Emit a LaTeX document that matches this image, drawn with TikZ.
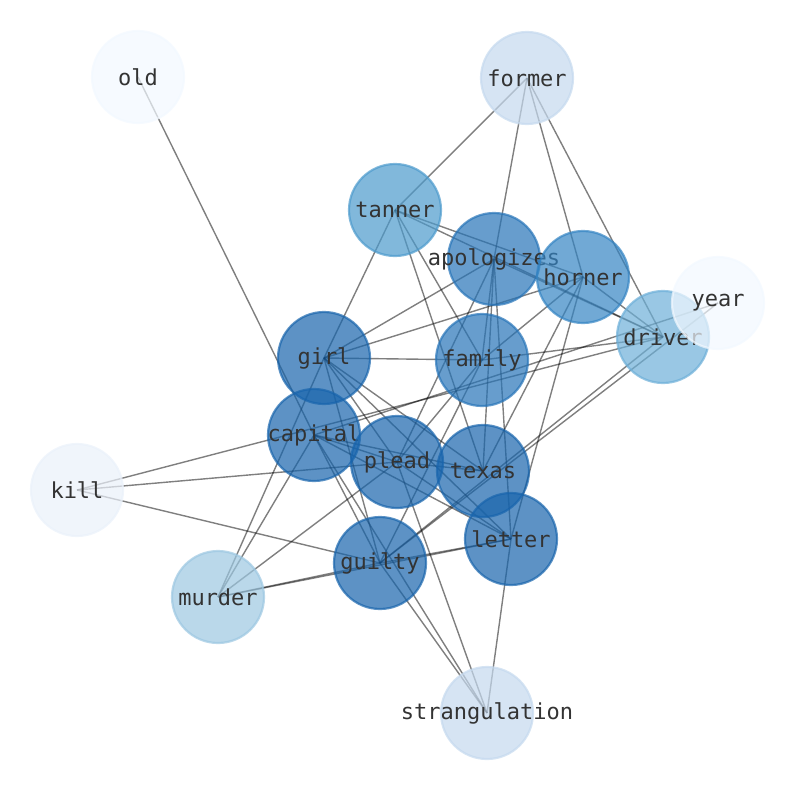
\documentclass[tikz,border=0pt]{standalone}
\usepackage{fontspec}
\setmonofont{DejaVu Sans Mono}
\usepackage{tikz}
\usetikzlibrary{backgrounds}

\definecolor{shadeA}{RGB}{242,248,255}
\definecolor{shadeB}{RGB}{234,241,250}
\definecolor{shadeC}{RGB}{197,217,238}
\definecolor{shadeD}{RGB}{156,199,225}
\definecolor{shadeE}{RGB}{109,175,216}
\definecolor{shadeF}{RGB}{76,154,204}
\definecolor{shadeG}{RGB}{52,132,195}
\definecolor{shadeH}{RGB}{39,116,184}
\definecolor{shadeI}{RGB}{24,100,172}

\newcommand{\wlabel}[1]{\makebox[0pt]{#1}}

\begin{document}
\begin{tikzpicture}[
				x=1pt, y=-1pt,
				word/.style={
					circle,
					minimum size=92pt,
					inner sep=0pt,
					line width=2.2pt,
					fill opacity=0.7,
					draw opacity=0.7,
					text opacity=1,
					text=black!80,
					font=\ttfamily\fontsize{22}{26}\selectfont
				},
				link/.style={draw=black, draw opacity=0.5, line width=1.4pt}
				]
				\useasboundingbox (0,0) rectangle (794,790);
				
				\node[word, fill=shadeA, draw=shadeA] (old) at (138,77) {\wlabel{old}};
				\node[word, fill=shadeC, draw=shadeC] (former) at (527,78) {\wlabel{former}};
				\node[word, fill=shadeF, draw=shadeF] (tanner) at (395,210) {\wlabel{tanner}};
				\node[word, fill=shadeH, draw=shadeH] (apologizes) at (494,259) {\wlabel{apologizes}};
				\node[word, fill=shadeG, draw=shadeG] (horner) at (583,277) {\wlabel{horner}};
				\node[word, fill=shadeE, draw=shadeE] (driver) at (663,337) {\wlabel{driver}};
				\node[word, fill=shadeA, draw=shadeA] (year) at (718,303) {\wlabel{year}};
				\node[word, fill=shadeI, draw=shadeI] (girl) at (324,358) {\wlabel{girl}};
				\node[word, fill=shadeH, draw=shadeH] (family) at (482,360) {\wlabel{family}};
				\node[word, fill=shadeI, draw=shadeI] (capital) at (314,435) {\wlabel{capital}};
				\node[word, fill=shadeI, draw=shadeI] (plead) at (397,462) {\wlabel{plead}};
				\node[word, fill=shadeI, draw=shadeI] (texas) at (483,471) {\wlabel{texas}};
				\node[word, fill=shadeB, draw=shadeB] (kill) at (77,490) {\wlabel{kill}};
				\node[word, fill=shadeI, draw=shadeI] (letter) at (511,539) {\wlabel{letter}};
				\node[word, fill=shadeI, draw=shadeI] (guilty) at (380,563) {\wlabel{guilty}};
				\node[word, fill=shadeD, draw=shadeD] (murder) at (218,597) {\wlabel{murder}};
				\node[word, fill=shadeC, draw=shadeC] (strangulation) at (487,713) {\wlabel{strangulation}};
				
				% links sit behind the words
				\begin{scope}[on background layer]
					\draw[link] (old.center) -- (capital.center);
					\draw[link] (former.center) -- (tanner.center);
					\draw[link] (former.center) -- (apologizes.center);
					\draw[link] (former.center) -- (horner.center);
					\draw[link] (former.center) -- (driver.center);
					\draw[link] (tanner.center) -- (girl.center);
					\draw[link] (tanner.center) -- (horner.center);
					\draw[link] (tanner.center) -- (driver.center);
					\draw[link] (tanner.center) -- (family.center);
					\draw[link] (tanner.center) -- (texas.center);
					\draw[link] (apologizes.center) -- (girl.center);
					\draw[link] (apologizes.center) -- (family.center);
					\draw[link] (apologizes.center) -- (texas.center);
					\draw[link] (apologizes.center) -- (letter.center);
					\draw[link] (apologizes.center) -- (plead.center);
					\draw[link] (apologizes.center) -- (driver.center);
					\draw[link] (horner.center) -- (girl.center);
					\draw[link] (horner.center) -- (driver.center);
					\draw[link] (horner.center) -- (family.center);
					\draw[link] (horner.center) -- (texas.center);
					\draw[link] (horner.center) -- (letter.center);
					\draw[link] (year.center) -- (capital.center);
					\draw[link] (year.center) -- (guilty.center);
					\draw[link] (driver.center) -- (family.center);
					\draw[link] (driver.center) -- (kill.center);
					\draw[link] (driver.center) -- (guilty.center);
					\draw[link] (girl.center) -- (family.center);
					\draw[link] (girl.center) -- (plead.center);
					\draw[link] (girl.center) -- (texas.center);
					\draw[link] (girl.center) -- (letter.center);
					\draw[link] (girl.center) -- (guilty.center);
					\draw[link] (girl.center) -- (murder.center);
					\draw[link] (kill.center) -- (plead.center);
					\draw[link] (kill.center) -- (guilty.center);
					\draw[link] (murder.center) -- (capital.center);
					\draw[link] (murder.center) -- (plead.center);
					\draw[link] (murder.center) -- (guilty.center);
					\draw[link] (murder.center) -- (letter.center);
					\draw[link] (capital.center) -- (plead.center);
					\draw[link] (capital.center) -- (texas.center);
					\draw[link] (capital.center) -- (letter.center);
					\draw[link] (capital.center) -- (guilty.center);
					\draw[link] (capital.center) -- (strangulation.center);
					\draw[link] (plead.center) -- (strangulation.center);
					\draw[link] (plead.center) -- (texas.center);
					\draw[link] (plead.center) -- (letter.center);
					\draw[link] (guilty.center) -- (strangulation.center);
					\draw[link] (guilty.center) -- (letter.center);
					\draw[link] (letter.center) -- (strangulation.center);
					\draw[link] (family.center) -- (plead.center);
					\draw[link] (family.center) -- (guilty.center);
				\end{scope}
			\end{tikzpicture}
\end{document}
